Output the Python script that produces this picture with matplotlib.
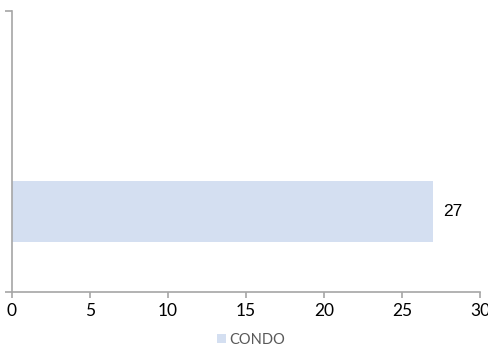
import matplotlib
matplotlib.use("Agg")
import matplotlib.pyplot as plt
from matplotlib.patches import Patch

categories = ["CONDO"]
values = [27]
xticks = [0, 5, 10, 15, 20, 25, 30]

bar_color = "#d4dff1"
axis_color = "#a6a6a6"

fig = plt.figure(figsize=(4.89, 3.47), dpi=100)
ax = fig.add_axes([12 / 489, 55 / 347, 468 / 489, 281 / 347])

ax.barh([0.2865], values, height=0.217, color=bar_color, label=categories[0], zorder=2)
ax.set_xlim(0, 30)
ax.set_ylim(0, 1)

for v in values:
    ax.text(v + 0.65, 0.2865, str(v), va="center", ha="left",
            fontsize=12.5, family="Liberation Sans", color="black")

for s in ["top", "right"]:
    ax.spines[s].set_visible(False)
for s in ["left", "bottom"]:
    ax.spines[s].set_color(axis_color)
    ax.spines[s].set_linewidth(1.2)

ax.set_xticks(xticks)
ax.set_xticklabels([str(t) for t in xticks], fontsize=12.5, family="Lato")
ax.tick_params(axis="x", colors=axis_color, length=4, width=1.2, labelcolor="black", pad=4)
ax.set_yticks([0, 1])
ax.set_yticklabels([])
ax.tick_params(axis="y", colors=axis_color, length=5, width=1.2)

handles = [Patch(facecolor=bar_color, edgecolor="none", label=categories[0])]
fig.legend(handles=handles, loc="center", bbox_to_anchor=(251 / 489, 1 - 340 / 347),
           frameon=False, handlelength=0.6, handleheight=0.6,
           handletextpad=0.2, labelcolor="#595959", prop={"family": "Lato", "size": 10.5})

fig.savefig("out.png", dpi=100)
